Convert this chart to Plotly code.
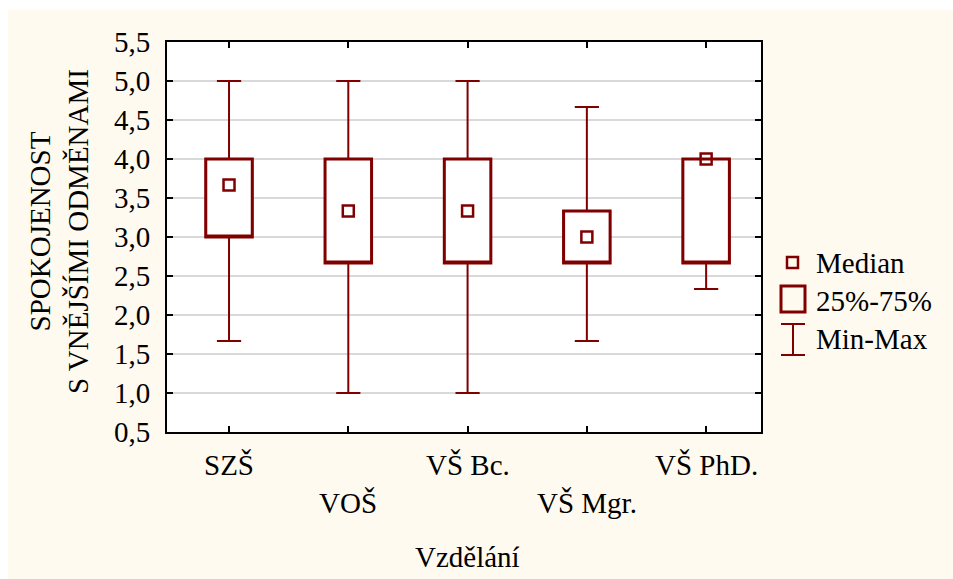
import plotly.graph_objects as go

# ---- data ----
categories = ["SZŠ", "VOŠ", "VŠ Bc.", "VŠ Mgr.", "VŠ PhD."]
label_row = [0, 1, 0, 1, 0]          # staggered tick label rows
minimum = [1.667, 1.0, 1.0, 1.667, 2.333]
q1 = [3.0, 2.667, 2.667, 2.667, 2.667]
median = [3.667, 3.333, 3.333, 3.0, 4.0]
q3 = [4.0, 4.0, 4.0, 3.333, 4.0]
maximum = [5.0, 5.0, 5.0, 4.667, 4.0]
y_ticks = [0.5, 1.0, 1.5, 2.0, 2.5, 3.0, 3.5, 4.0, 4.5, 5.0, 5.5]
legend_labels = ["Median", "25%-75%", "Min-Max"]
x_title = "Vzdělání"
y_title = "SPOKOJENOST<br>S VNĚJŠÍMI ODMĚNAMI"

# ---- style ----
RED = "#800000"
CREAM = "#FFFAF0"
FONT = "Liberation Serif"
FS = 29
W, H = 953, 579
L, R, T, B = 167, 761, 42, 432  # plot area in pixels


def px(x):
    return (x - L) / (R - L)


def py(y):
    return (B - y) / (B - T)


fig = go.Figure()

# whiskers (thin)
fig.add_trace(go.Box(
    x=categories, q1=q1, median=q1, q3=q3,
    lowerfence=minimum, upperfence=maximum,
    width=0.39, whiskerwidth=0.52,
    line=dict(color=RED, width=2), fillcolor="white",
    boxpoints=False, showlegend=False, hoverinfo="skip",
))
# boxes (thick)
fig.add_trace(go.Box(
    x=categories, q1=q1, median=q1, q3=q3,
    lowerfence=q1, upperfence=q3,
    width=0.39, whiskerwidth=0,
    line=dict(color=RED, width=3), fillcolor="white",
    boxpoints=False, showlegend=False, hoverinfo="skip",
))
# medians
fig.add_trace(go.Scatter(
    x=categories, y=median, mode="markers",
    marker=dict(symbol="square-open", size=11, color=RED,
                line=dict(color=RED, width=2.5)),
    showlegend=False, hoverinfo="skip",
))

shapes = [
    # white border strips
    dict(type="rect", xref="paper", yref="paper", x0=px(0), x1=px(W), y0=py(10), y1=py(0),
         fillcolor="white", line=dict(width=0), layer="below"),
    dict(type="rect", xref="paper", yref="paper", x0=px(0), x1=px(8), y0=py(H), y1=py(0),
         fillcolor="white", line=dict(width=0), layer="below"),
    # legend: median square
    dict(type="rect", xref="paper", yref="paper", x0=px(787), x1=px(798), y0=py(268), y1=py(257),
         line=dict(color=RED, width=2.5), fillcolor="rgba(0,0,0,0)"),
    # legend: box
    dict(type="rect", xref="paper", yref="paper", x0=px(781), x1=px(805), y0=py(312), y1=py(286),
         line=dict(color=RED, width=3), fillcolor="rgba(0,0,0,0)"),
    # legend: min-max
    dict(type="line", xref="paper", yref="paper", x0=px(781), x1=px(805), y0=py(324), y1=py(324),
         line=dict(color=RED, width=2)),
    dict(type="line", xref="paper", yref="paper", x0=px(781), x1=px(805), y0=py(355), y1=py(355),
         line=dict(color=RED, width=2)),
    dict(type="line", xref="paper", yref="paper", x0=px(793), x1=px(793), y0=py(324), y1=py(355),
         line=dict(color=RED, width=2)),
]

annotations = []
for cat, row in zip(categories, label_row):
    annotations.append(dict(
        x=cat, xref="x", y=py(465 if row == 0 else 503), yref="paper",
        text=cat, showarrow=False, xanchor="center", yanchor="middle",
        font=dict(family=FONT, size=FS, color="black"),
    ))
for lab, yy in zip(legend_labels, [263, 301, 339]):
    annotations.append(dict(
        x=px(814), xref="paper", y=py(yy), yref="paper",
        text=lab, showarrow=False, xanchor="left", yanchor="middle",
        font=dict(family=FONT, size=FS, color="black"),
    ))
annotations.append(dict(
    x=px(467), xref="paper", y=py(557), yref="paper", text=x_title,
    showarrow=False, xanchor="center", yanchor="middle",
    font=dict(family=FONT, size=FS, color="black"),
))
annotations.append(dict(
    x=px(59), xref="paper", y=py(232), yref="paper", text=y_title,
    showarrow=False, xanchor="center", yanchor="middle", textangle=-90,
    font=dict(family=FONT, size=FS, color="black"),
))

fig.update_layout(
    width=W, height=H,
    margin=dict(l=L, r=W - R, t=T, b=H - B, pad=0),
    paper_bgcolor=CREAM, plot_bgcolor="white",
    separators=", ",
    boxmode="overlay",
    shapes=shapes, annotations=annotations,
    showlegend=False,
    font=dict(family=FONT, size=FS, color="black"),
)
fig.update_xaxes(
    type="category", categoryorder="array", categoryarray=categories,
    range=[-0.52, 4.46], showticklabels=False,
    ticks="inside", ticklen=6, tickwidth=2, tickcolor="black",
    showline=True, linewidth=2, linecolor="black", mirror="ticks",
    showgrid=False, zeroline=False,
)
fig.update_yaxes(
    range=[0.5, 5.5], tickvals=y_ticks, tickformat=".1f",
    ticks="inside", ticklen=6, tickwidth=2, tickcolor="black",
    showline=True, linewidth=2, linecolor="black", mirror="ticks",
    showgrid=True, gridcolor="#d9d9d9", gridwidth=2, zeroline=False,
    ticklabelstandoff=9,
    tickfont=dict(family=FONT, size=FS, color="black"),
)

fig.write_html("out.html")
